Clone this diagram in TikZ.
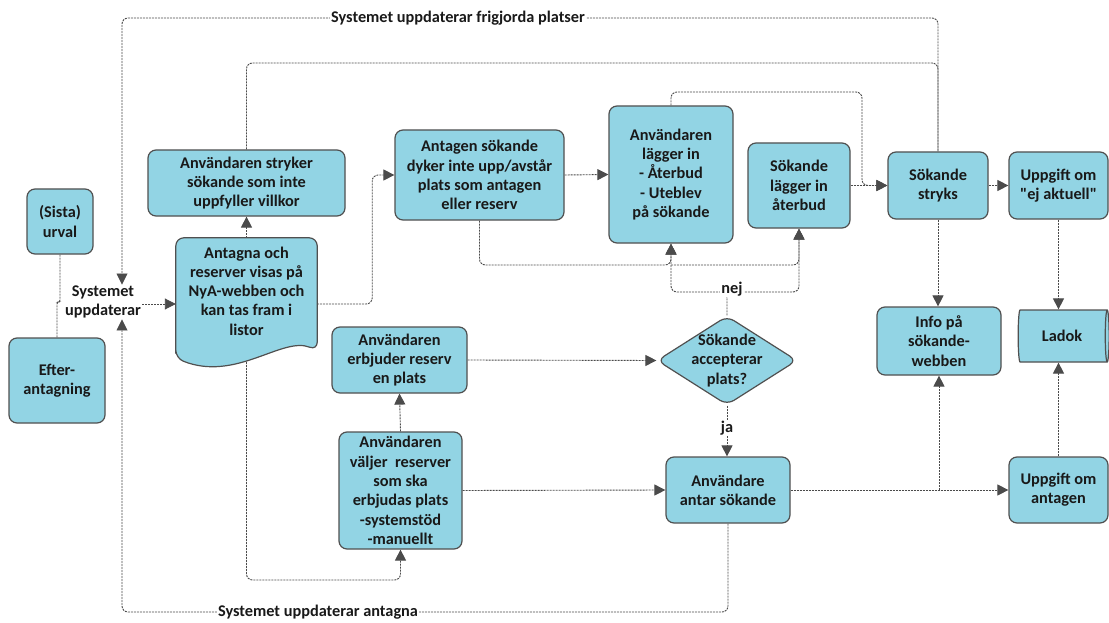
\documentclass[tikz,border=0pt]{standalone}
\usepackage{fontspec}
\setmainfont{Carlito}
\newfontfamily\carl{Carlito}
\usetikzlibrary{shapes.geometric,arrows.meta,calc}
\definecolor{boxfill}{RGB}{146,212,228}
\definecolor{boxline}{RGB}{80,80,80}
\definecolor{lnc}{RGB}{75,75,75}
\definecolor{txt}{RGB}{25,25,25}
\pgfdeclarelayer{bg}
\pgfdeclarelayer{shp}
\pgfsetlayers{bg,shp,main}
\begin{document}
\begin{tikzpicture}[x=1pt,y=-1pt,
  font=\fontsize{16.3}{19.3}\selectfont\bfseries,
  box/.style={draw=boxline, fill=boxfill, line width=1.2pt, rounded corners=8pt, align=center, inner sep=2pt, text=txt},
  docshape/.style={draw=boxline, fill=boxfill, line width=1.2pt, rounded corners=8pt},
  conn/.style={draw=lnc, line width=0.9pt, dash pattern=on 2pt off 1pt, rounded corners=6pt},
  arr/.style={conn, -{Triangle[length=11pt,width=11pt]}},
  lbl/.style={fill=white, inner sep=1pt, align=center, text=txt}
]
\useasboundingbox (0,0) rectangle (1109,623);
\begin{pgfonlayer}{bg}
\fill[white] (0,0) rectangle (1109,623);
\end{pgfonlayer}

% helper coordinates (heights of routed lines)
\coordinate (yA) at (0,18);
\coordinate (yB) at (0,63);
\coordinate (j3) at (862,92);
\coordinate (yM) at (0,265);
\coordinate (yN) at (0,292);
\coordinate (yL) at (0,580);
\coordinate (yZ) at (0,612);

% nodes
\node[box, minimum width=66pt, minimum height=65pt] (urval) at (60,221.5) {(Sista)\\urval};
\node[box, minimum width=96pt, minimum height=85pt] (efter) at (57,380.5) {Efter-\\antagning};
\node[lbl] (sysupd) at (103,302) {Systemet\\uppdaterar};
\node[align=center, minimum width=141pt, minimum height=106pt, inner sep=0pt, text=txt] (doc) at (246.5,291) {Antagna och\\reserver visas på\\NyA-webben och\\kan tas fram i\\listor};
\node[box, minimum width=197pt, minimum height=66pt] (stryker) at (246.5,183) {Användaren stryker\\sökande som inte\\uppfyller villkor};
\node[box, minimum width=169pt, minimum height=90pt] (antagen) at (479.5,175) {Antagen sökande\\dyker inte upp/avstår\\plats som antagen\\eller reserv};
\node[box, minimum width=124pt, minimum height=137pt] (lagger) at (671,174.5) {Användaren\\lägger in\\- Återbud\\- Uteblev\\på sökande};
\node[box, minimum width=102pt, minimum height=85pt] (aterbud) at (799,185.5) {Sökande\\lägger in\\återbud};
\node[box, minimum width=100pt, minimum height=67pt] (stryks) at (938,185.5) {Sökande\\stryks};
\node[box, minimum width=99pt, minimum height=67pt] (ejakt) at (1058.5,185.5) {Uppgift om\\{\carl "ej aktuell"}};
\node[box, minimum width=124pt, minimum height=68pt] (info) at (939,341) {Info på\\sökande-\\webben};
\node[box, cylinder, rounded corners=0pt, aspect=0.25, minimum width=52pt, minimum height=91pt] (ladok) at (1062,336) {Ladok};
\node[box, minimum width=135pt, minimum height=66pt] (erbjuder) at (399.5,360) {Användaren\\erbjuder reserv\\en plats};
\node[box, minimum width=123pt, minimum height=117pt] (valjer) at (400.5,490.5) {Användaren\\väljer\ \ reserver\\som ska\\erbjudas plats\\-systemstöd\\-manuellt};
\node[box, diamond, aspect=1.57, minimum width=140pt, minimum height=89pt, inner xsep=-12pt, inner ysep=-10pt] (dia) at (727,360.5) {Sökande\\accepterar\\plats?};
\node[box, minimum width=124pt, minimum height=66pt] (antar) at (728,490) {Användare\\antar sökande};
\node[box, minimum width=99pt, minimum height=66pt] (uppant) at (1058.5,490) {Uppgift om\\antagen};

% labels on lines
\node[lbl] (lfrig) at (458,18) {Systemet uppdaterar frigjorda platser};
\node[lbl] (lant) at (318,612) {Systemet uppdaterar antagna};
\node[lbl] (nej) at (732,289) {nej};
\node[lbl] (ja) at (727,428) {ja};

% document shape
\begin{pgfonlayer}{shp}
\draw[docshape] ($(doc.south west)+(0,14)$) -- (doc.north west) -- (doc.north east) -- ($(doc.south east)+(0,6)$) .. controls ($(doc.south east)+(-35,-8)$) and ($(doc.south west)+(60,38)$) .. cycle;
\end{pgfonlayer}

% connectors
\begin{pgfonlayer}{bg}
\draw[arr] (stryks.north) |- ([xshift=19pt]sysupd.north |- yA) -- ([xshift=19pt]sysupd.north);
\draw[conn] (stryker.north) |- (stryks.north |- yB) -- (stryks.north);
\draw[arr] (lagger.north) |- (j3) |- (stryks.west);
\draw[arr] (aterbud.east) -- (stryks.west);
\draw[arr] (stryks.east) -- (ejakt.west);
\draw[arr] (stryks.south) -- (stryks.south |- info.north);
\draw[arr] (ejakt.south) -- (ejakt.south |- ladok.north);
\draw[arr] (uppant.north) -- (uppant.north |- ladok.south);
\draw[arr] (antar.east) -- (uppant.west);
\draw[arr] (info.south |- antar.east) -- (info.south);
\draw[arr] (antar.south) |- ([xshift=19pt]sysupd.south |- yZ) -- ([xshift=19pt]sysupd.south);
\draw[arr] (dia.south) -- (dia.south |- antar.north);
\draw[arr] (dia.north) -- (dia.north |- yN) -| (lagger.south);
\draw[arr] (dia.north |- yN) -| (aterbud.south);
\draw[arr] (antagen.south) -- (antagen.south |- yM) -| (lagger.south);
\draw[arr] (lagger.south |- yM) -| (aterbud.south);
\draw[arr] (antagen.east) -- (lagger.west);
\draw[arr] ([yshift=-13pt]doc.east) -- ++(55,0) |- (antagen.west);
\draw[arr] ([yshift=-2pt]sysupd.east) -- ([yshift=-2pt]sysupd.east -| doc.west);
\draw[arr] (doc.north) -- (stryker.south);
\draw[arr] (doc.south) |- (valjer.south |- yL) -- (valjer.south);
\draw[arr] (valjer.north) -- (erbjuder.south);
\draw[arr] (erbjuder.east) -- (dia.west);
\draw[arr] (valjer.east) -- (antar.west);
\draw[conn, rounded corners=2pt] (urval.south) -- (urval.south |- sysupd.west) -- (efter.north |- sysupd.west) -- (efter.north);
\end{pgfonlayer}
\end{tikzpicture}
\end{document}
